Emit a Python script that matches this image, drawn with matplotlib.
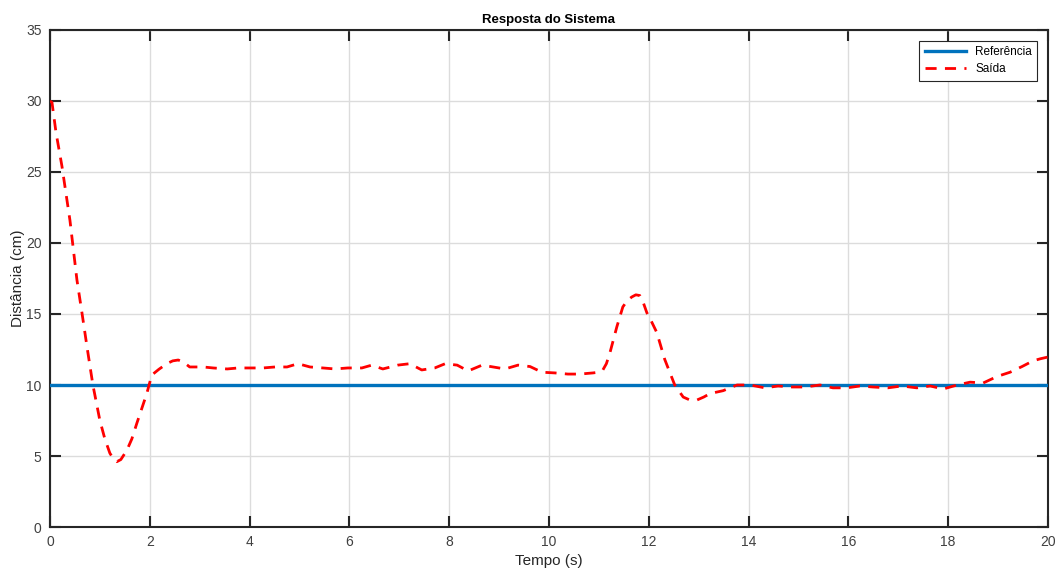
import numpy as np
import matplotlib
matplotlib.use("Agg")
import matplotlib.pyplot as plt

plt.rcParams['font.family'] = ['Liberation Sans', 'DejaVu Sans']

# referencia constante
ref_t = [0, 20]
ref_v = [10, 10]

# saida
t = [0.0, 0.04, 0.12, 0.24, 0.40, 0.54, 0.64, 0.75, 0.86, 1.00, 1.10, 1.20, 1.27, 1.34,
     1.42, 1.54, 1.64, 1.74, 1.94, 2.04, 2.18,
     2.34, 2.46, 2.57, 2.68, 2.80, 3.07, 3.27, 3.55, 3.77, 4.00, 4.27, 4.51, 4.75, 4.97, 5.21,
     5.47, 5.71, 5.97, 6.25, 6.45, 6.67, 6.97, 7.21, 7.45, 7.71, 7.92, 8.16, 8.38,
     8.66, 8.88, 9.12, 9.38, 9.62, 9.86, 10.12, 10.38, 10.62, 10.88, 11.0, 11.08, 11.15,
     11.22, 11.36, 11.48, 11.57, 11.66, 11.74, 11.82, 11.89, 11.96, 12.05, 12.16, 12.32,
     12.52, 12.69, 12.82, 12.97, 13.1, 13.23,
     13.49, 13.77, 14.03, 14.33, 14.59, 14.87, 15.13, 15.43, 15.69, 15.97, 16.23,
     16.49, 16.79, 17.07, 17.37, 17.64, 17.90, 18.18, 18.44, 18.70, 18.98, 19.24,
     19.48, 19.70, 19.85, 20.0]
v = [30.0, 29.9, 27.8, 25.4, 21.6, 17.4, 15.1, 12.5, 10.0, 7.5, 6.2, 5.2, 4.8, 4.6,
     4.75, 5.4, 6.2, 7.3, 9.4, 10.7, 11.1,
     11.5, 11.7, 11.76, 11.6, 11.27, 11.27, 11.2, 11.13, 11.2, 11.2, 11.2, 11.27, 11.27, 11.5, 11.27,
     11.2, 11.13, 11.2, 11.2, 11.4, 11.13, 11.4, 11.5, 11.06, 11.2, 11.5, 11.4, 10.99,
     11.4, 11.27, 11.13, 11.4, 11.3, 10.9, 10.85, 10.77, 10.77, 10.85, 10.9, 11.06, 11.5,
     12.25, 14.1, 15.5, 15.95, 16.2, 16.35, 16.3, 15.8, 15.1, 14.5, 13.7, 11.8,
     10.0, 9.15, 8.95, 8.95, 9.15, 9.4,
     9.6, 10.0, 10.0, 9.8, 9.93, 9.86, 9.86, 10.0, 9.8, 9.8, 9.93,
     9.86, 9.8, 9.93, 9.8, 9.93, 9.72, 10.0, 10.2, 10.14, 10.6, 10.9,
     11.3, 11.7, 11.85, 11.97]

fig = plt.figure(figsize=(10.59, 5.69), dpi=100)
ax = fig.add_axes([0.0472, 0.0738, 0.9424, 0.8735])

ax.plot(ref_t, ref_v, color='#0072BD', lw=2.4, label='Referência', zorder=3)
ax.plot(t, v, color='#FF0000', lw=2.0, ls=(0, (4, 3)), label='Saída', zorder=4)

ax.set_xlim(0, 20)
ax.set_ylim(0, 35)
ax.set_xticks(np.arange(0, 21, 2))
ax.set_yticks(np.arange(0, 36, 5))
ax.grid(True, color='#dcdcdc', lw=1.0)
ax.set_axisbelow(True)

ax.tick_params(direction='in', length=8, width=1.5, color='#262626',
               labelcolor='#404040', labelsize=10, top=True, right=True, pad=6)
for s in ax.spines.values():
    s.set_color('#262626')
    s.set_linewidth(1.5)

ax.set_title('Resposta do Sistema', fontsize=9.5, fontweight='bold', pad=5)
ax.set_xlabel('Tempo (s)', fontsize=11, color='#262626', labelpad=3)
ax.set_ylabel('Distância (cm)', fontsize=11, color='#262626', labelpad=1)

leg = ax.legend(loc='upper right', fontsize=8.5, fancybox=False, framealpha=1,
                edgecolor='#262626', borderaxespad=0.9, handlelength=3.5,
                borderpad=0.45, labelspacing=0.45)
leg.get_frame().set_linewidth(0.8)

fig.savefig('out.png', dpi=100)
